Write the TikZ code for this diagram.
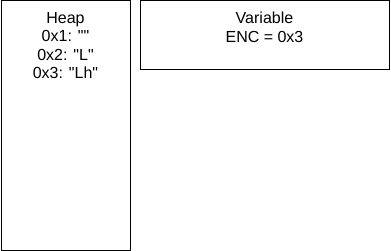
\documentclass[tikz,border=0pt]{standalone}
\usepackage{fontspec}
\setmainfont{Liberation Sans}
\usetikzlibrary{positioning}
\newcommand{\dq}{\textquotedbl}
\tikzset{
	memblock/.style = {draw, line width=1pt, inner sep=0pt},
	memtext/.style = {font=\fontsize{16}{18.5}\selectfont, align=center, inner sep=0pt, anchor=north}
}

\begin{document}
\begin{tikzpicture}[x=1pt, y=-1pt]
	\useasboundingbox (0,0) rectangle (391,251);
	% heap column
	\node[memblock, minimum width=129pt, minimum height=249pt] (heap) at (65.5,125.5) {};
	\node[memtext] (heaptxt) at (65.5,12) {Heap\\0x1: \dq\dq\\0x2: \dq L\dq\\0x3: \dq Lh\dq};
	% variable table
	\node[memblock, minimum width=249pt, minimum height=69pt] (vars) at (264.5,35.5) {};
	\node[memtext] (varstxt) at (264.5,12) {Variable\\ENC = 0x3};
\end{tikzpicture}
\end{document}
